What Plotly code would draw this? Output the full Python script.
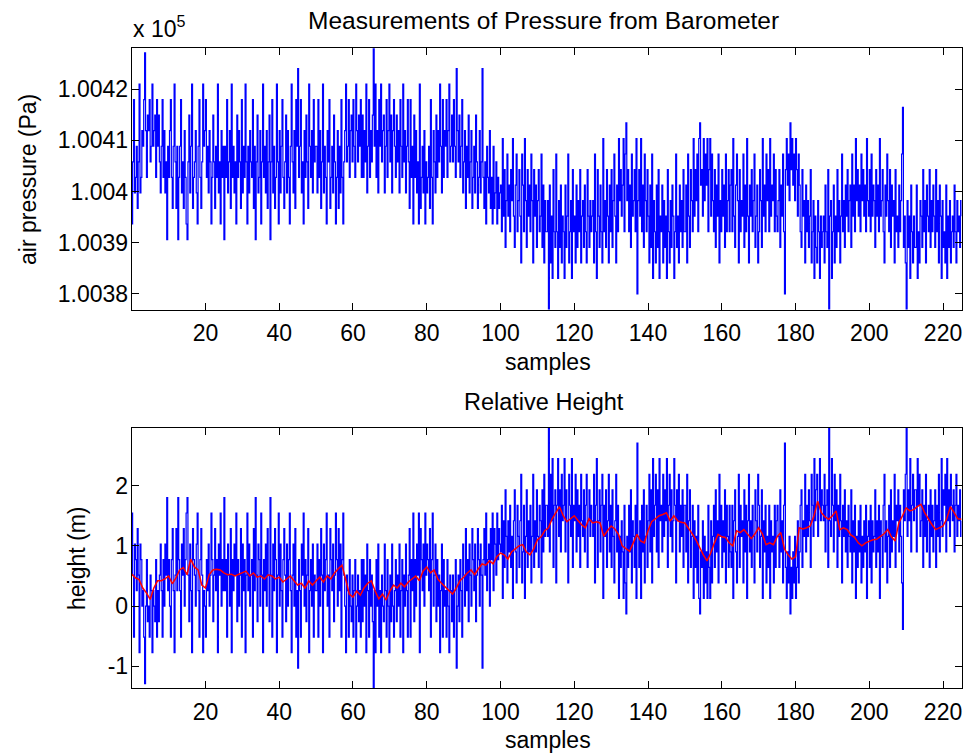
import plotly.graph_objects as go

# ---------------- data ----------------
# Barometer readings as quantisation levels (1 level = 3.04 Pa = 0.2575 m),
# four readings per sample index (50 readings per row = 12.5 samples).
level_rows = [
    [6, 2, -2, 4, 3, 1, 5, 2, -3, 4, 3, 0, 1, -2, -5, 0, 3, -1, 0, -2, 2, 1, -3, 1, 0, -1, 3, -2, 1, -1,
     2, 4, 1, -2, 3, 0, 4, 2, 7, 1, 3, 0, -2, 3, 5, 1, -3, 2, 5, 1],
    [7, 3, 1, -2, 4, 2, 5, 0, 3, 6, 7, 2, -1, 4, 1, -3, 5, 3, 2, 0, 4, 6, 1, -2, 3, 5, 2, -3, 1, 0,
     -2, 3, 1, 4, 0, 2, 6, 3, -1, 2, 5, 1, 3, -3, 4, 2, 6, 0, 3, 1],
    [7, 1, 3, -2, 4, 2, 0, 5, -3, 3, 1, 4, 2, 6, -1, 3, 0, 2, 5, -2, 4, 1, 3, -3, 2, 6, 1, 4, 0, 2,
     3, -2, 5, 1, 7, 2, -1, 4, 3, 0, 6, 2, -3, 3, 1, 4, 0, 5, 2, -1],
    [7, 2, -2, 4, 1, 5, 3, -3, 2, 6, 0, 4, 1, -2, 3, 5, 2, -1, 4, 0, 3, 6, 1, -3, 2, 4, 0, 5, -2, 1,
     -4, 3, 1, -2, 4, 2, 6, 0, 3, -1, 2, 5, -3, 1, 3, 0, 4, -2, 2, 1],
    [1, 4, -2, 3, 0, 5, 2, -3, 4, 1, 3, 6, 0, 2, -2, 5, 3, 1, 4, -1, 2, 6, 3, 0, 5, 1, 4, -2, 3, 6,
     2, 0, -3, 2, 1, -2, 3, 0, -1, 2, -2, 1, 3, -3, 0, 2, -1, 1, -2, 3],
    [-1, 3, 0, 2, -3, 4, 1, -2, 3, 0, 2, -1, -5.3, 1, -3, 3, 0, 4, -2, 1, -3, 2, 0, -1, 4, 1, -2, 3, 0, -3,
     2, -1, 4, 0, -2, 1, 3, -1, 2, 0, 4, -2, 1, 3, -3, 2, 0, 4, 1, -2],
    [2, 5, -2, 3, 1, 6, -1, 3, 0, 4, 2, 6, -3, 5, 3, 1, 4, 0, 6, 2, 4, 3, 1, 5, -2, 3, 6, 0, 2, 4,
     -1, 3, 0, 2, -3, 1, 4, -2, 3, 0, 1, -2, 3, 0, -3, 2, 1, -1, 2, -2],
    [1, 3, -4, 0, 2, -1, 3, 1, -2, 4, 2, 0, 5, 1, 3, -1, 4, 2, 0, 5, 3, 1, 4, -1, 2, 5, 3, 0, 4, 2,
     -4, 3, 5, 2, 6, 1, 3, 4, 0, 5, 3, 6, 1, 5, 4, 2, 6, 3, 5, 4],
    [3.5, 6.5, 0.5, 5.5, 2.5, 7.5, 4.5, 1.5, 5.5, 3.5, 6.5, 2.5, 4.5, 0.5, 5.5, 7.5, 3.5, 1.5, 6.5, 4.5,
     2.5, 5.5, 8.5, 1.5, 3.5, 6.5, 0.5, 4.5, 7.5, 2.5, 5.5, 3.5, 6.5, 1.5, 4.5, 8.5, 2.5, 5.5, 3.5, 7.5,
     4.5, 2.5, 6.5, 5.5, 1.5, 7.5, 3.5, 8.5, 4.5, 6.5],
    [6.5, 4.5, 11.5, 3.5, 8.5, 5.5, 9.5, 2.5, 6.5, 7.5, 1.5, 6.5, 9.5, 4.5, 7.5, 3.5, 8.5, 5.5, 6.5, 9.5,
     3.5, 7.5, 5.5, 1.5, 8.5, 6.5, 4.5, 9.5, 2.5, 6.5, 5.5, 8.5, 3.5, 7.5, 4.5, 6.5, 2.5, 8.5, 5.5, 4.5,
     7.5, 3.5, 6.5, 8.5, 2.5, 5.5, 7.5, 4.5, 6.5, 5.5],
    [4.5, 8.5, 1.5, 6.5, 9.5, 2.5, 5.5, 7.5, 3.5, 6.5, 8.5, 0.5, 6.5, 4.5, 7.5, 2.5, 5.5, 8.5, 3.5, 6.5,
     2.5, 7.5, 4.5, 1.5, 5.5, 8.5, 3.5, 6.5, 0.5, 4.5, 2.5, 5.5, 3.5, 0.5, 6.5, 1.5, -0.5, 4.5, 2.5, 6.5,
     3.5, 7.5, 1.5, 5.5, 4.5, 2.5, 6.5, 0.5, 10.5, 4.5],
    [2.5, 5.5, 0.5, 6.5, 3.5, 7.5, 1.5, 4.5, 6.5, 2.5, 5.5, 8.5, 3.5, 7.5, 1.5, 9.5, 4.5, 6.5, 8.5, 3.5,
     7.5, 2.5, 9.5, 5.5, 6.5, 3.5, 8.5, 4.5, 7.5, 5.5, 9.5, 2.5, 6.5, 8.5, 4.5, 7.5, 3.5, 5.5, 9.5, 6.5,
     1.5, 7.5, 5.5, 8.5, 3.5, 6.5, 4.5, 7.5, 2.5, 6.5],
    [6.5, 3.5, 8.5, 1.5, 5.5, 7.5, 2.5, 4.5, 6.5, 0.5, 5.5, 2.5, 4.5, 1.5, 6.5, 0.5, -0.5, 3.5, 2.5, 5.5,
     0.5, 4.5, 1.5, 3.5, 0.5, 6.5, 2.5, 0.5, 5.5, 1.5, 4.5, 6.5, 2.5, 7.5, 3.5, 5.5, 1.5, 8.5, 4.5, 6.5,
     2.5, 5.5, 3.5, 7.5, 1.5, 6.5, 4.5, 2.5, 6.5, 3.5],
    [2.5, 6.5, 0.5, 5.5, 7.5, 3.5, 1.5, 4.5, 8.5, 2.5, 6.5, 4.5, 5.5, 1.5, 7.5, 3.5, 6.5, 0.5, 5.5, 8.5,
     3.5, 5.5, 2.5, 6.5, 4.5, 1.5, 7.5, 5.5, 3.5, 8.5, 6.5, 2.5, 4.5, 7.5, 0.5, 5.5, 3.5, 6.5, 1.5, 4.5,
     2.5, 6.5, 0.5, 5.5, 3.5, 4.5, 1.5, 6.5, 2.5, 5.5],
    [6.5, 4.5, 2.5, 7.5, 3.5, 5.5, 1.5, 6.5, 10.5, 2.5, 0.5, 3.5, 1.5, 4.5, -0.5, 2.5, 0.5, 3.5, 1.5, 4.5,
     0.5, 2.5, 5.5, 1.5, 3.5, 6.5, 7.5, 2.5, 5.5, 4.5, 8.5, 3.5, 6.5, 4.5, 7.5, 5.5, 2.5, 8.5, 6.5, 4.5,
     9.5, 5.5, 7.5, 8.5, 4.5, 6.5, 9.5, 5.5, 7.5, 6.5],
    [5.5, 8.5, 3.5, 6.5, 7.5, 2.5, 11.5, 5.5, 4.5, 9.5, 6.5, 3.5, 8.5, 5.5, 7.5, 2.5, 6.5, 4.5, 8.5, 5.5,
     1.5, 6.5, 4.5, 7.5, 3.5, 5.5, 2.5, 6.5, 4.5, 3.5, 7.5, 1.5, 5.5, 3.5, 6.5, 0.5, 4.5, 2.5, 5.5, 3.5,
     6.5, 1.5, 4.5, 2.5, 5.5, 3.5, 6.5, 0.5, 4.5, 5.5],
    [2.5, 6.5, 1.5, 5.5, 3.5, 4.5, 7.5, 2.5, 5.5, 3.5, 6.5, 0.5, 5.5, 4.5, 2.5, 6.5, 8.5, 3.5, 5.5, 1.5,
     4.5, 6.5, 2.5, 7.5, 3.5, 5.5, 4.5, 8.5, 2.5, 6.5, 5.5, 7.5, 3.5, 6.5, 4.5, 1.5, -1.5, 7.5, 5.5, 8.5,
     11.5, 4.5, 7.5, 5.5, 9.5, 3.5, 6.5, 8.5, 5.5, 7.5],
    [7.5, 3.5, 9.5, 6.5, 8.5, 4.5, 5.5, 7.5, 2.5, 6.5, 4.5, 8.5, 3.5, 5.5, 6.5, 2.5, 7.5, 4.5, 6.5, 3.5,
     5.5, 7.5, 2.5, 6.5, 4.5, 8.5, 3.5, 5.5, 9.5, 4.5, 7.5, 6.5, 8.5, 3.5, 9.5, 5.5, 7.5, 4.5, 8.5, 6.5,
     5.5, 7.5, 3.5, 6.5, 8.5, 4.5, 6.5, 5.5, 7.5, 4.5],
    [5.5],
]
levels = [v for row in level_rows for v in row]
sample_step = 0.25
x_raw = [i * sample_step for i in range(len(levels))]

P_REF = 100411.9      # Pa, pressure at relative height 0
PA_PER_LEVEL = 3.04   # Pa
M_PER_LEVEL = 0.2575  # m

pressure = [(P_REF - n * PA_PER_LEVEL) / 1e5 for n in levels]   # in units of 1e5 Pa
height = [n * M_PER_LEVEL for n in levels]

# filtered height (red), one value per sample
x_filt = list(range(0, 226))
height_filt = [
    0.53, 0.47, 0.44, 0.30, 0.22, 0.11, 0.30, 0.42, 0.42, 0.45,
    0.50, 0.37, 0.47, 0.60, 0.64, 0.52, 0.78, 0.65, 0.60, 0.35,
    0.30, 0.52, 0.60, 0.61, 0.60, 0.55, 0.52, 0.53, 0.50, 0.53,
    0.56, 0.58, 0.50, 0.55, 0.48, 0.50, 0.45, 0.52, 0.50, 0.45,
    0.48, 0.40, 0.45, 0.50, 0.42, 0.35, 0.38, 0.30, 0.42, 0.35,
    0.42, 0.48, 0.40, 0.50, 0.45, 0.55, 0.62, 0.68, 0.45, 0.20,
    0.15, 0.25, 0.18, 0.30, 0.38, 0.42, 0.25, 0.12, 0.20, 0.10,
    0.25, 0.35, 0.30, 0.38, 0.32, 0.40, 0.45, 0.50, 0.42, 0.58,
    0.65, 0.55, 0.60, 0.45, 0.38, 0.32, 0.25, 0.20, 0.30, 0.42,
    0.48, 0.55, 0.60, 0.52, 0.62, 0.70, 0.68, 0.75, 0.70, 0.82,
    0.88, 0.85, 0.78, 0.90, 0.95, 1.00, 1.02, 0.90, 0.85, 0.95,
    1.10, 1.15, 1.25, 1.30, 1.45, 1.55, 1.65, 1.50, 1.40, 1.45,
    1.50, 1.42, 1.35, 1.30, 1.45, 1.38, 1.40, 1.38, 1.16, 1.25,
    1.33, 1.28, 1.19, 1.00, 0.95, 0.91, 1.05, 1.19, 1.08, 1.05,
    1.25, 1.40, 1.45, 1.50, 1.52, 1.55, 1.41, 1.50, 1.42, 1.39,
    1.38, 1.30, 1.20, 1.10, 0.97, 0.85, 0.75, 0.88, 1.05, 1.19,
    1.15, 1.14, 1.05, 1.00, 1.25, 1.22, 1.27, 1.20, 1.12, 1.20,
    1.30, 1.20, 1.02, 1.05, 1.02, 1.15, 1.22, 0.95, 0.85, 0.78,
    0.82, 1.30, 1.28, 1.30, 1.33, 1.50, 1.74, 1.55, 1.48, 1.44,
    1.50, 1.58, 1.27, 1.30, 1.27, 1.18, 1.14, 1.05, 1.00, 1.05,
    1.08, 1.10, 1.11, 1.15, 1.20, 1.27, 1.15, 1.08, 1.38, 1.50,
    1.63, 1.58, 1.60, 1.65, 1.69, 1.55, 1.44, 1.35, 1.27, 1.30,
    1.33, 1.45, 1.65, 1.55, 1.45, 1.44,
]

x_ticks = list(range(20, 221, 20))
p_ticks = [1.0038, 1.0039, 1.0040, 1.0041, 1.0042]
p_tick_text = ["1.0038", "1.0039", "1.004", "1.0041", "1.0042"]
h_ticks = [-1, 0, 1, 2]
h_tick_text = ["-1", "0", "1", "2"]

# ---------------- figure ----------------
W, H = 964, 755
FONT = "Liberation Sans, Arial, Helvetica, sans-serif"

def px_x(x):
    return x / W

def px_y(y):
    return 1 - y / H

x_dom = [px_x(131.7), px_x(961.5)]
top_dom = [px_y(309.5), px_y(48.3)]
bot_dom = [px_y(688.3), px_y(427.7)]

fig = go.Figure()
fig.add_trace(go.Scatter(x=x_raw, y=pressure, mode="lines",
                         line=dict(color="#0000ff", width=1.2, shape="hv"),
                         xaxis="x", yaxis="y", hoverinfo="skip"))
fig.add_trace(go.Scatter(x=x_raw, y=height, mode="lines",
                         line=dict(color="#0000ff", width=1.2, shape="hv"),
                         xaxis="x2", yaxis="y2", hoverinfo="skip"))
fig.add_trace(go.Scatter(x=x_filt, y=height_filt, mode="lines",
                         line=dict(color="#ff0000", width=1.5),
                         xaxis="x2", yaxis="y2", hoverinfo="skip"))

axis_common = dict(
    showline=True, linecolor="black", linewidth=1, mirror="ticks",
    ticks="inside", ticklen=7, tickcolor="black", tickwidth=1,
    showgrid=False, zeroline=False,
    tickfont=dict(family=FONT, size=23, color="black"),
)

fig.update_layout(
    width=W, height=H,
    margin=dict(l=0, r=0, t=0, b=0),
    paper_bgcolor="white", plot_bgcolor="white",
    showlegend=False,
    xaxis=dict(domain=x_dom, range=[x_raw[0], x_raw[-1]], tickvals=x_ticks,
               anchor="y", ticklabelstandoff=3, **axis_common),
    yaxis=dict(domain=top_dom, range=[min(pressure), max(pressure)],
               tickvals=p_ticks, ticktext=p_tick_text, anchor="x",
               ticklabelstandoff=-2, **axis_common),
    xaxis2=dict(domain=x_dom, range=[x_raw[0], x_raw[-1]], tickvals=x_ticks,
                anchor="y2", ticklabelstandoff=3, **axis_common),
    yaxis2=dict(domain=bot_dom, range=[min(height), max(height)],
                tickvals=h_ticks, ticktext=h_tick_text, anchor="x2",
                ticklabelstandoff=-2, **axis_common),
)

def label(text, x, y, size=23, angle=0, xanchor="center", yanchor="middle"):
    fig.add_annotation(text=text, x=px_x(x), y=px_y(y), xref="paper", yref="paper",
                       showarrow=False, textangle=angle, xanchor=xanchor, yanchor=yanchor,
                       font=dict(family=FONT, size=size, color="black"))

label("Measurements of Pressure from Barometer", 543, 21, size=24.5)
label("Relative Height", 544, 402, size=23.5)
label("samples", 548, 362)
label("samples", 548, 740)
label("air pressure (Pa)", 28, 180, angle=-90)
label("height (m)", 77, 558, angle=-90)
label("x 10<sup>5</sup>", 131, 27, xanchor="left")

fig.write_html("out.html",
               config={"displayModeBar": False},
               post_script="document.body.style.margin='0';document.body.style.padding='0';")
